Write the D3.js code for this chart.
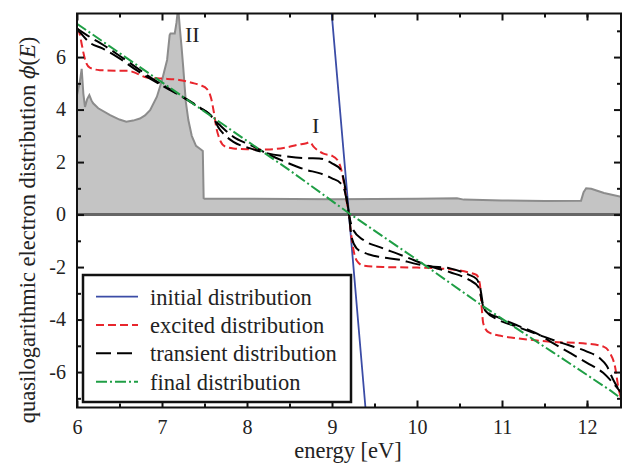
<!DOCTYPE html>
<html><head><meta charset="utf-8">
<script src="https://cdn.jsdelivr.net/npm/d3@7"></script>
<style>
body{margin:0;background:#fff}
text{font-family:"Liberation Serif","Times New Roman",serif;fill:#222}
</style>
</head><body>
<svg id="c" width="625" height="464"></svg>
<script>
// ---- data ----
const xTicks = [6, 7, 8, 9, 10, 11, 12];
const yTicks = [-6, -4, -2, 0, 2, 4, 6];
const xMinor = [6.5, 7.5, 8.5, 9.5, 10.5, 11.5, 12];
const yMinor = [-7, -5, -3, -1, 1, 3, 5, 7];

// density of states (grey area)
const dosE = [6.0, 6.03, 6.055, 6.075, 6.094, 6.12, 6.145, 6.17, 6.19, 6.25, 6.39, 6.5, 6.58, 6.66, 6.74, 6.8, 6.86, 6.94, 7.0, 7.06, 7.09, 7.1, 7.15, 7.17, 7.19, 7.21, 7.23, 7.25, 7.28, 7.31, 7.35, 7.4, 7.45, 7.48, 7.49, 7.5, 8.0, 9.0, 10.0, 10.47, 10.55, 11.0, 11.5, 11.93, 11.96, 11.99, 12.05, 12.2, 12.4];
const dosV = [4.55, 5.0, 5.55, 4.6, 4.1, 4.4, 4.55, 4.35, 4.24, 4.05, 3.79, 3.62, 3.54, 3.58, 3.66, 3.78, 3.98, 4.49, 5.12, 5.89, 6.84, 6.9, 6.9, 7.3, 7.9, 7.1, 6.39, 5.6, 4.3, 3.6, 3.0, 2.62, 2.5, 2.42, 0.62, 0.6, 0.6, 0.58, 0.6, 0.62, 0.57, 0.54, 0.52, 0.53, 0.85, 1.0, 0.98, 0.82, 0.68];

const initialE = [8.99, 9.2, 9.40];
const initialV = [7.9, 0, -7.6];

const excitedE = [6.0, 6.03, 6.055, 6.08, 6.1, 6.15, 6.27, 6.5, 6.6, 6.7, 6.82, 7.0, 7.2, 7.35, 7.45, 7.53, 7.58, 7.61, 7.64, 7.68, 7.74, 7.84, 8.0, 8.23, 8.45, 8.6, 8.7, 8.74, 8.78, 8.9, 9.0, 9.07, 9.11, 9.14, 9.17, 9.2, 9.22, 9.25, 9.29, 9.37, 9.6, 10.0, 10.3, 10.6, 10.7, 10.74, 10.76, 10.78, 10.84, 11.0, 11.2, 11.6, 12.0, 12.2, 12.27, 12.33, 12.37, 12.4];
const excitedV = [7.09, 6.9, 6.5, 6.1, 5.85, 5.6, 5.5, 5.48, 5.48, 5.38, 5.22, 5.18, 5.13, 5.02, 4.93, 4.78, 4.4, 3.9, 3.3, 2.86, 2.6, 2.52, 2.49, 2.48, 2.55, 2.66, 2.72, 2.76, 2.6, 2.32, 2.24, 2.05, 1.7, 1.2, 0.55, 0.0, -0.6, -1.3, -1.75, -1.95, -2.0, -2.02, -2.06, -2.2, -2.3, -2.65, -3.5, -4.15, -4.48, -4.63, -4.72, -4.85, -4.92, -5.04, -5.28, -5.8, -6.6, -7.0];

const transient1E = [6.0, 6.15, 6.3, 6.5, 6.7, 6.9, 7.09, 7.3, 7.45, 7.55, 7.62, 7.66, 7.72, 7.84, 8.04, 8.23, 8.5, 8.7, 8.85, 9.0, 9.1, 9.14, 9.17, 9.2, 9.23, 9.29, 9.37, 9.57, 9.8, 9.96, 10.15, 10.39, 10.6, 10.7, 10.75, 10.78, 10.82, 10.94, 11.2, 11.45, 11.6, 11.78, 12.0, 12.15, 12.23, 12.31, 12.4];
const transient1V = [7.09, 6.55, 6.33, 5.95, 5.5, 5.1, 4.75, 4.38, 4.07, 3.85, 3.6, 3.34, 3.09, 2.77, 2.52, 2.34, 2.2, 2.15, 2.14, 1.95, 1.72, 1.3, 0.7, 0.0, -0.85, -1.29, -1.44, -1.62, -1.72, -1.86, -1.97, -2.05, -2.28, -2.45, -2.9, -3.5, -3.72, -3.98, -4.3, -4.6, -4.78, -4.97, -5.22, -5.47, -5.75, -6.3, -6.8];

const transient2E = [6.0, 6.15, 6.31, 6.5, 6.7, 6.9, 7.09, 7.3, 7.45, 7.55, 7.62, 7.68, 7.84, 8.04, 8.23, 8.47, 8.7, 8.85, 9.0, 9.1, 9.15, 9.18, 9.2, 9.25, 9.37, 9.57, 9.76, 9.96, 10.15, 10.39, 10.62, 10.72, 10.78, 10.84, 10.94, 11.2, 11.45, 11.6, 11.8, 12.0, 12.19, 12.31, 12.4];
const transient2V = [7.09, 6.77, 6.46, 6.05, 5.6, 5.15, 4.78, 4.36, 4.05, 3.85, 3.6, 3.41, 2.96, 2.65, 2.33, 1.98, 1.70, 1.58, 1.38, 1.2, 0.9, 0.4, 0.0, -0.59, -0.97, -1.25, -1.48, -1.73, -1.97, -2.2, -2.5, -2.75, -3.5, -3.75, -3.9, -4.25, -4.6, -4.9, -5.27, -5.65, -6.03, -6.43, -6.78];

const finalE = [6.0, 8.5, 9.2, 10.0, 10.78, 11.6, 12.27, 12.4];
const finalV = [7.27, 1.69, 0.05, -1.72, -3.5, -5.25, -6.69, -7.0];

const legendLabels = ["initial distribution", "excited distribution", "transient distribution", "final distribution"];

// ---- chart ----
const svg = d3.select("#c");
const L = 77, R = 621, T = 13.5, B = 407.5;
const x = d3.scaleLinear().domain([6, 12.4]).range([L, R]);
const y = d3.scaleLinear().domain([-7.35, 7.66]).range([B, T]);

svg.append("defs").append("clipPath").attr("id", "clip")
  .append("rect").attr("x", L).attr("y", T).attr("width", R - L).attr("height", B - T);

const plot = svg.append("g").attr("clip-path", "url(#clip)");

// grey DOS area
const dos = dosE.map((e, i) => [e, dosV[i]]);
plot.append("path").datum(dos)
  .attr("d", d3.area().x(d => x(d[0])).y0(y(0)).y1(d => y(d[1])))
  .attr("fill", "#c4c4c4");
plot.append("path").datum(dos)
  .attr("d", d3.line().x(d => x(d[0])).y(d => y(d[1])))
  .attr("fill", "none").attr("stroke", "#8c8c8c").attr("stroke-width", 2);
// zero line
plot.append("line").attr("x1", L).attr("x2", R).attr("y1", y(0)).attr("y2", y(0))
  .attr("stroke", "#666").attr("stroke-width", 3);

const styles = [
  {E: initialE, V: initialV, color: "#3b4ca6", dash: null, w: 1.8},
  {E: excitedE, V: excitedV, color: "#e8262d", dash: "8,4", w: 2},
  {E: transient1E, V: transient1V, color: "#000", dash: "15,6", w: 2},
  {E: transient2E, V: transient2V, color: "#000", dash: "15,6", w: 2},
  {E: finalE, V: finalV, color: "#1f9e45", dash: "11,3,2,3", w: 2}
];
const line = d3.line().x(d => x(d[0])).y(d => y(d[1])).curve(d3.curveMonotoneX);
const lineStraight = d3.line().x(d => x(d[0])).y(d => y(d[1]));
styles.forEach((s, k) => {
  const pts = s.E.map((e, i) => [e, s.V[i]]);
  plot.append("path").datum(pts)
    .attr("d", (k === 0 || k === 4) ? lineStraight : line)
    .attr("fill", "none").attr("stroke", s.color).attr("stroke-width", s.w)
    .attr("stroke-dasharray", s.dash);
});

// axes
const fmt = d => d < 0 ? "-" + (-d) : String(d);
svg.append("g").attr("transform", `translate(0,${B})`)
  .call(d3.axisBottom(x).tickValues(xTicks).tickFormat(fmt).tickSizeInner(-7).tickSizeOuter(0).tickPadding(12));
svg.append("g").attr("transform", `translate(${L},0)`)
  .call(d3.axisLeft(y).tickValues(yTicks).tickFormat(fmt).tickSizeInner(-7).tickSizeOuter(0).tickPadding(11));
svg.append("g").attr("transform", `translate(0,${T})`)
  .call(d3.axisTop(x).tickValues(xTicks).tickFormat("").tickSizeInner(-7).tickSizeOuter(0));
svg.append("g").attr("transform", `translate(${R},0)`)
  .call(d3.axisRight(y).tickValues(yTicks).tickFormat("").tickSizeInner(-7).tickSizeOuter(0));
// minor
const yMin = yMinor.filter(v => v > -7.35 && v < 7.66);
svg.append("g").attr("transform", `translate(0,${B})`)
  .call(d3.axisBottom(x).tickValues(xMinor).tickFormat("").tickSizeInner(-4).tickSizeOuter(0));
svg.append("g").attr("transform", `translate(0,${T})`)
  .call(d3.axisTop(x).tickValues(xMinor).tickFormat("").tickSizeInner(-4).tickSizeOuter(0));
svg.append("g").attr("transform", `translate(${L},0)`)
  .call(d3.axisLeft(y).tickValues(yMin).tickFormat("").tickSizeInner(-4).tickSizeOuter(0));
svg.append("g").attr("transform", `translate(${R},0)`)
  .call(d3.axisRight(y).tickValues(yMin).tickFormat("").tickSizeInner(-4).tickSizeOuter(0));

svg.selectAll(".domain").remove();
svg.selectAll(".tick line").attr("stroke", "#111").attr("stroke-width", 2);
svg.selectAll(".tick text").attr("font-size", 20).attr("font-family", "Liberation Serif, serif").attr("fill", "#222");

// frame
svg.append("rect").attr("x", L).attr("y", T).attr("width", R - L).attr("height", B - T)
  .attr("fill", "none").attr("stroke", "#111").attr("stroke-width", 2);

// annotations
svg.append("text").attr("x", 185).attr("y", 42).attr("font-size", 22).text("II");
svg.append("text").attr("x", 312).attr("y", 133).attr("font-size", 22).text("I");

// axis titles
svg.append("text").attr("x", 348).attr("y", 458).attr("text-anchor", "middle")
  .attr("font-size", 22.5).text("energy [eV]");
const yt = svg.append("text").attr("transform", "translate(35,230) rotate(-90)")
  .attr("text-anchor", "middle").attr("font-size", 22.5);
yt.append("tspan").text("quasilogarithmic electron distribution ");
yt.append("tspan").attr("font-style", "italic").attr("font-family", "DejaVu Serif, serif").attr("font-size", 20).text("\u03D5");
yt.append("tspan").text("(");
yt.append("tspan").attr("font-style", "italic").text("E");
yt.append("tspan").text(")");

// legend
const lg = svg.append("g");
lg.append("rect").attr("x", 83).attr("y", 275).attr("width", 268).attr("height", 127)
  .attr("fill", "#fff").attr("stroke", "#111").attr("stroke-width", 2.5);
const rowY = [296.7, 325, 353.3, 381.7];
const legStyles = [styles[0], styles[1], styles[2], styles[4]];
legendLabels.forEach((lab, i) => {
  const s = legStyles[i];
  lg.append("line").attr("x1", 96).attr("x2", 138).attr("y1", rowY[i]).attr("y2", rowY[i])
    .attr("stroke", s.color).attr("stroke-width", s.w).attr("stroke-dasharray", s.dash);
  lg.append("text").attr("x", 150).attr("y", rowY[i] + 8).attr("font-size", 22.5).text(lab);
});
</script>
</body></html>
